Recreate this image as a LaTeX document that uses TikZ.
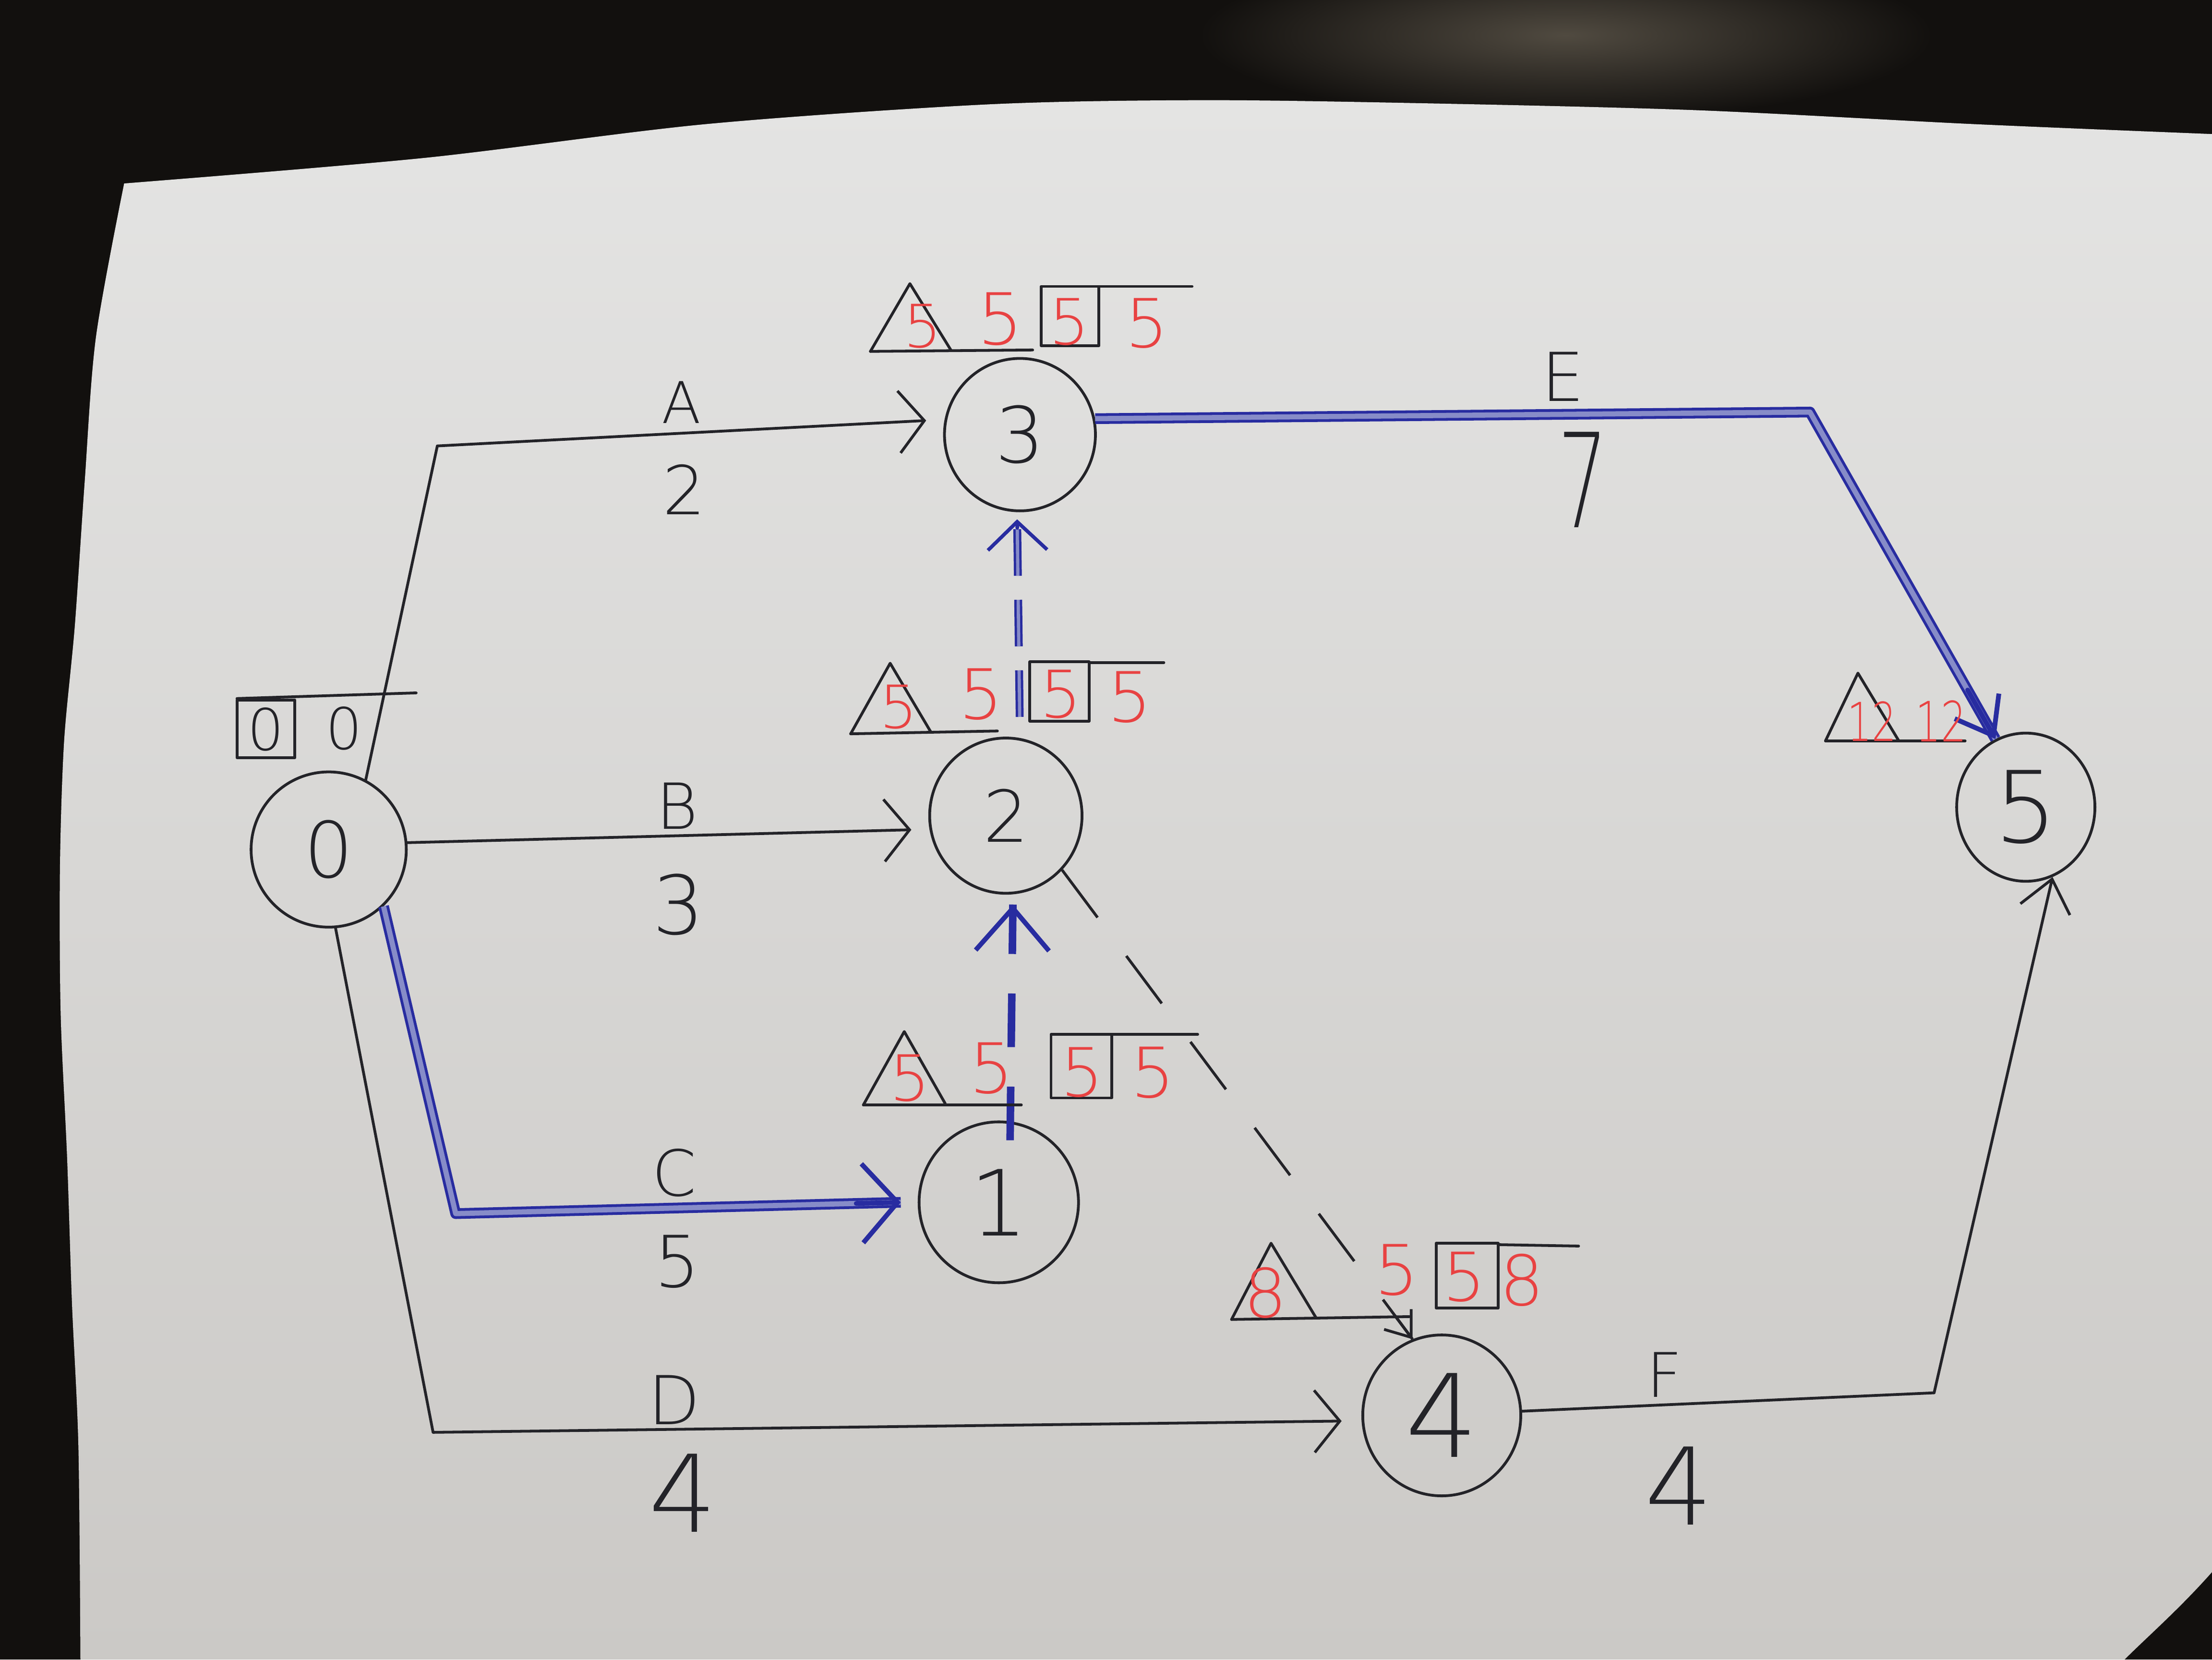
\documentclass[tikz,border=0pt]{standalone}
\usepackage{fontspec}
\newfontfamily\hand{DejaVu Sans ExtraLight}
\usetikzlibrary{arrows.meta,calc,shapes.geometric}
\definecolor{paperA}{RGB}{228,228,227}
\definecolor{paperB}{RGB}{203,201,198}
\definecolor{bgdark}{RGB}{18,16,14}
\definecolor{bgpatch}{RGB}{80,74,64}
\definecolor{ink}{RGB}{35,35,40}
\definecolor{critblue}{RGB}{40,44,160}
\definecolor{critpale}{RGB}{135,140,200}
\definecolor{redink}{RGB}{232,66,66}
\newcommand\hw[1]{\hand\fontsize{#1}{#1}\selectfont}
\begin{document}
\begin{tikzpicture}[x=0.25mm,y=-0.25mm,
  inkline/.style={draw=ink, line width=1.4pt, line cap=round, line join=round},
  evt/.style={ellipse, draw=ink, line width=1.4pt, inner sep=0pt, text=ink},
  lbl/.style={inner sep=0pt, text=ink},
  rtxt/.style={inner sep=0pt, text=redink},
  arr/.style={inkline, -{Straight Barb[length=4.5mm,width=11mm]}},
  crit/.style={draw=critblue, line width=1.4pt, double=critpale, double distance=2.6pt, line join=round},
  critsolid/.style={draw=critblue, line width=2.4pt, line cap=round},
  dumblack/.style={inkline, line cap=butt, dash pattern=on 10.5mm off 8.5mm},
  dumblue/.style={draw=critblue, line width=3.8pt, dash pattern=on 9.5mm off 7mm},
  dumdouble/.style={draw=critblue, line width=1.2pt, double=critpale, double distance=1.6pt, dash pattern=on 8.25mm off 4.25mm, dash phase=9mm}
]
\useasboundingbox (0,0) rectangle (1568,1176);
\fill[bgdark] (0,0) rectangle (1568,1176);
\shade[inner color=bgpatch, outer color=bgdark] (1110,25) ellipse [x radius=260, y radius=60];
% paper
\shade[top color=paperA, bottom color=paperB]
  plot[smooth] coordinates {(88,130) (300,112) (500,88) (700,74) (850,71) (1000,73) (1200,78) (1400,88) (1568,95)}
  -- (1568,1114) .. controls (1545,1140) and (1522,1160) .. (1506,1176) -- (57,1176)
  -- plot[smooth] coordinates {(57,1176) (55.6,1026) (51,923) (47.6,821) (43,718) (42.5,615) (45.4,526) (53,444) (60,342) (68,239) (88,130)}
  -- cycle;

% events
\node[evt, minimum width=27.5mm, minimum height=27.5mm, font=\hw{39}] (n0) at (233,602) {0};
\node[evt, minimum width=26.75mm, minimum height=27mm, font=\hw{39}] (n3) at (723,308) {3};
\node[evt, minimum width=27mm, minimum height=27.5mm, font=\hw{36}] (n2) at (713,578) {2};
\node[evt, minimum width=28.25mm, minimum height=28.5mm, font=\hw{46}] (n1) at (708,852) {1};
\node[evt, minimum width=28mm, minimum height=28.5mm, font=\hw{58}] (n4) at (1022,1003) {4};
\node[evt, minimum width=24.5mm, minimum height=26.25mm, font=\hw{50}] (n5) at (1436,572) {5};

% corners and ends
\coordinate (Ac) at (310,316);
\coordinate (Aend) at ([shift={(-12,-10)}]n3.west);
\coordinate (Bend) at ([shift={(-12,10)}]n2.west);
\coordinate (Cc) at (323,860);
\coordinate (Cend) at ([xshift=-3mm]n1.west);
\coordinate (Dc) at (307,1015);
\coordinate (Dend) at ([shift={(-14,4)}]n4.west);
\coordinate (Ec) at (1283,292);
\coordinate (Fc) at (1371,987);
\coordinate (S12) at ([shift={(8,14)}]n1.north);
\coordinate (E12) at ([shift={(5,7)}]n2.south);
\coordinate (S23) at (n3.south |- n2.north);
\coordinate (E23) at ([shift={(-2,5)}]n3.south);

% activities
\draw[arr] (n0.62) -- (Ac) -- (Aend);
\draw[arr] (n0.5) -- (Bend);
\draw[crit] (n0.-46) -- (Cc) -- (Cend);
\draw[critsolid, -{Straight Barb[length=6.25mm,width=14mm]}] ($(Cc)!0.9!(Cend)$) -- (Cend);
\draw[arr] (n0.-85) -- (Dc) -- (Dend);
\draw[crit] (n3.12) -- (Ec) -- (n5.114);
\draw[critsolid, -{Straight Barb[length=6mm,width=9mm]}] ($(Ec)!0.85!(n5.114)$) -- (n5.114);
\draw[inkline, -{Straight Barb[length=5.5mm,width=9mm]}] (n4.3) -- (Fc) -- (n5.-69);

% dummies
\draw[dumblue] (S12) -- (E12);
\draw[critsolid, -{Straight Barb[length=7.5mm,width=13mm]}] ($(S12)!0.93!(E12)$) -- (E12);
\draw[dumdouble] (S23) -- (E23);
\draw[critsolid, line width=1.8pt, -{Straight Barb[length=5mm,width=10.5mm]}] ($(S23)!0.96!(E23)$) -- (E23);
\draw[dumblack] (n2.-44) -- (n4.111);
\draw[inkline, -{Straight Barb[length=4mm,width=6mm]}] ($(n2.-44)!0.95!(n4.111)$) -- (n4.111);

% activity labels
\node[lbl, font=\hw{29}] (lA) at (483,285) {A};
\node[lbl, font=\hw{34}] (dA) at (485,347) {2};
\node[lbl, font=\hw{32}] (lB) at (480,571) {B};
\node[lbl, font=\hw{41}] (dB) at (481,641) {3};
\node[lbl, font=\hw{32}] (lC) at (478,831) {C};
\node[lbl, font=\hw{36}] (dC) at (480,894) {5};
\node[lbl, font=\hw{34}] (lD) at (478,992) {D};
\node[lbl, font=\hw{54}] (dD) at (484,1058) {4};
\node[lbl, font=\hw{34}] (lE) at (1108,267) {E};
\node[lbl, font=\hw{66}] (dE) at (1122,340) {\scalebox{0.6}[1]{7}};
\node[lbl, font=\hw{31}] (lF) at (1180,974) {F};
\node[lbl, font=\hw{54}] (dF) at (1190,1053) {4};

% annotation: event 0
\draw[inkline] (168,496) rectangle (209,537);
\draw[inkline] (168,495) -- (295,491);
\node[lbl, font=\hw{29}] (e0a) at (188.5,517) {0};
\node[lbl, font=\hw{29}] (e0b) at (244,516) {0};

% annotation: event 3
\draw[inkline] (617,249) -- (645,201) -- (674,248);
\draw[inkline] (617,249) -- (732,248);
\draw[inkline] (738,203) rectangle (779,245);
\draw[inkline] (779,203) -- (845,203);
\node[rtxt, font=\hw{30}] (e3a) at (654,231) {5};
\node[rtxt, font=\hw{36}] (e3b) at (709,226) {5};
\node[rtxt, font=\hw{32}] (e3c) at (758,228) {5};
\node[rtxt, font=\hw{34}] (e3d) at (813,229) {5};

% annotation: event 2
\draw[inkline] (603,520) -- (631,470) -- (660,519);
\draw[inkline] (603,520) -- (707,518);
\draw[inkline] (730,469) rectangle (772,511);
\draw[inkline] (772,469.5) -- (825,469.5);
\node[rtxt, font=\hw{30}] (e2a) at (637,501) {5};
\node[rtxt, font=\hw{35}] (e2b) at (695.5,492) {5};
\node[rtxt, font=\hw{33}] (e2c) at (752,492) {5};
\node[rtxt, font=\hw{35}] (e2d) at (801,494) {5};

% annotation: event 1
\draw[inkline] (612,783) -- (641,731) -- (670,782);
\draw[inkline] (612,783) -- (724,783);
\draw[inkline] (745,733) rectangle (788,778);
\draw[inkline] (788,733) -- (849,733);
\node[rtxt, font=\hw{32}] (e1a) at (645,764) {5};
\node[rtxt, font=\hw{35}] (e1b) at (703,757) {5};
\node[rtxt, font=\hw{34}] (e1c) at (767,760) {5};
\node[rtxt, font=\hw{35}] (e1d) at (817,760) {5};

% annotation: event 4
\draw[inkline] (873,935) -- (901,881) -- (933,934);
\draw[inkline] (873,935) -- (999,933);
\draw[inkline] (1018,881) rectangle (1062,927);
\draw[inkline] (1062,882) -- (1119,883);
\node[rtxt, font=\hw{34}] (e4a) at (897,916) {8};
\node[rtxt, font=\hw{35}] (e4b) at (990,900) {5};
\node[rtxt, font=\hw{34}] (e4c) at (1038,905) {5};
\node[rtxt, font=\hw{35}] (e4d) at (1079,907) {8};

% annotation: event 5
\draw[inkline] (1294,525) -- (1317,477) -- (1346,525);
\draw[inkline] (1294,525) -- (1393,525);
\node[rtxt, font=\hw{27}] (e5a) at (1327,511) {\scalebox{0.72}[1]{12}};
\node[rtxt, font=\hw{28}] (e5b) at (1376,511) {\scalebox{0.72}[1]{12}};
\end{tikzpicture}
\end{document}
